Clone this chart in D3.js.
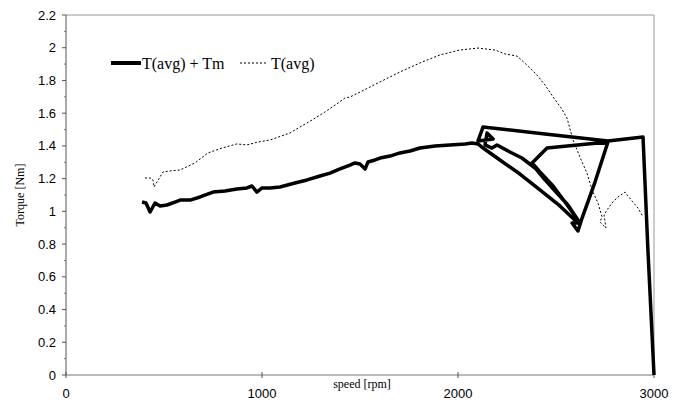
<!DOCTYPE html>
<html>
<head>
<meta charset="utf-8">
<script src="https://cdn.jsdelivr.net/npm/d3@7"></script>
<style>
body { margin: 0; background: #fff; }
svg { display: block; }
</style>
</head>
<body>
<svg width="679" height="405"></svg>
<script>
// T(avg) (dotted)
var avgSpeed = [403, 429, 444, 449, 464, 495, 531, 582, 658, 724, 796, 872, 923, 980, 1041, 1143, 1194, 1255,
    1321, 1388, 1423, 1449, 1500, 1602, 1704, 1806, 1908, 2010, 2102, 2189, 2240, 2301, 2352, 2403, 2444,
    2485, 2526, 2556, 2587, 2622, 2658, 2684, 2714, 2735, 2724, 2755, 2745, 2760, 2786, 2816, 2852, 2888,
    2918, 2944];
var avgTorque = [1.204, 1.204, 1.192, 1.149, 1.179, 1.241, 1.247, 1.253, 1.296, 1.357, 1.387, 1.412, 1.406,
    1.424, 1.436, 1.479, 1.516, 1.558, 1.607, 1.662, 1.693, 1.699, 1.729, 1.791, 1.852, 1.907, 1.956, 1.986,
    1.998, 1.986, 1.962, 1.949, 1.894, 1.833, 1.772, 1.699, 1.632, 1.571, 1.436, 1.332, 1.234, 1.131, 1.051,
    0.966, 0.935, 0.898, 0.978, 1.008, 1.051, 1.088, 1.118, 1.063, 1.021, 0.966];

// T(avg) + Tm (solid)
var sumSpeed = [388, 408, 429, 454, 480, 515, 556, 582, 633, 684, 750, 811, 872, 923, 949, 974, 1000, 1041,
    1092, 1168, 1230, 1296, 1347, 1398, 1449, 1474, 1500, 1526, 1541, 1577, 1602, 1653, 1704, 1755, 1806,
    1883, 1959, 2036, 2071, 2102,
    2128, 2214, 2316, 2418, 2520, 2612, 2582, 2612, 2633, 2699, 2765, 2454, 2378,
    2418, 2485, 2546, 2612, 2561, 2500, 2444, 2393, 2326, 2265, 2199,
    2173, 2138, 2148, 2179, 2102, 2128, 2444, 2765, 2944, 2969, 3000];
var sumTorque = [1.057, 1.051, 0.996, 1.051, 1.033, 1.039, 1.057, 1.069, 1.069, 1.088, 1.118, 1.124, 1.137,
    1.143, 1.155, 1.118, 1.143, 1.143, 1.149, 1.173, 1.192, 1.216, 1.234, 1.259, 1.283, 1.296, 1.289, 1.259,
    1.302, 1.314, 1.326, 1.338, 1.357, 1.369, 1.387, 1.399, 1.406, 1.412, 1.418, 1.412,
    1.387, 1.314, 1.228, 1.131, 1.033, 0.929, 0.929, 0.880, 0.959, 1.179, 1.424, 1.387, 1.296,
    1.241, 1.155, 1.057, 0.947, 1.039, 1.118, 1.192, 1.265, 1.326, 1.363, 1.406,
    1.387, 1.406, 1.479, 1.442, 1.430, 1.516, 1.473, 1.430, 1.454, 0.764, 0];

var xTicks = [0, 1000, 2000, 3000];
var yTicks = d3.range(0, 2.21, 0.2);
var yMinor = d3.range(0.1, 2.2, 0.2);

var svg = d3.select("svg");
var x = d3.scaleLinear().domain([0, 3000]).range([66, 654]);
var y = d3.scaleLinear().domain([0, 2.2]).range([375, 15]);

// frame (top and right)
svg.append("path")
    .attr("d", "M" + x(0) + "," + y(2.2) + "H" + x(3000) + "V" + y(0))
    .attr("fill", "none")
    .attr("stroke", "#999")
    .attr("stroke-width", 1);

// y axis
var yAxis = svg.append("g").attr("transform", "translate(" + x(0) + ",0)");
yAxis.append("line")
    .attr("y1", y(0)).attr("y2", y(2.2))
    .attr("stroke", "#555");
yAxis.selectAll("line.major").data(yTicks).enter().append("line")
    .attr("class", "major")
    .attr("x1", -4).attr("x2", 0)
    .attr("y1", d => y(d)).attr("y2", d => y(d))
    .attr("stroke", "#555");
yAxis.selectAll("line.minor").data(yMinor).enter().append("line")
    .attr("class", "minor")
    .attr("x1", -2).attr("x2", 0)
    .attr("y1", d => y(d)).attr("y2", d => y(d))
    .attr("stroke", "#777");
yAxis.selectAll("text").data(yTicks).enter().append("text")
    .attr("x", -10)
    .attr("y", d => y(d) + 4.5)
    .attr("text-anchor", "end")
    .style("font-family", "Liberation Sans, Arial, sans-serif")
    .style("font-size", "13px")
    .text(d => d3.format("~g")(+d.toFixed(1)));

// x axis
var xAxis = svg.append("g").attr("transform", "translate(0," + y(0) + ")");
xAxis.append("line")
    .attr("x1", x(0)).attr("x2", x(3000))
    .attr("stroke", "#777");
xAxis.selectAll("line.tick").data(xTicks).enter().append("line")
    .attr("class", "tick")
    .attr("x1", d => x(d)).attr("x2", d => x(d))
    .attr("y1", -3).attr("y2", 3)
    .attr("stroke", "#555");
xAxis.selectAll("text").data(xTicks).enter().append("text")
    .attr("x", d => x(d))
    .attr("y", 23)
    .attr("text-anchor", "middle")
    .style("font-family", "Liberation Sans, Arial, sans-serif")
    .style("font-size", "13px")
    .text(d => d);

// axis titles
svg.append("text")
    .attr("transform", "translate(24," + y(1.1) + ") rotate(-90)")
    .attr("text-anchor", "middle")
    .style("font-family", "Liberation Serif, Times New Roman, serif")
    .style("font-size", "12px")
    .text("Torque [Nm]");
svg.append("text")
    .attr("x", 362).attr("y", 388)
    .attr("text-anchor", "middle")
    .style("font-family", "Liberation Serif, Times New Roman, serif")
    .style("font-size", "12px")
    .text("speed [rpm]");

var line = d3.line().x(d => x(d[0])).y(d => y(d[1]));

// T(avg)
svg.append("path")
    .attr("d", line(d3.zip(avgSpeed, avgTorque)))
    .attr("fill", "none")
    .attr("stroke", "#000")
    .attr("stroke-width", 1)
    .attr("stroke-dasharray", "2,2");

// T(avg) + Tm
svg.append("path")
    .attr("d", line(d3.zip(sumSpeed, sumTorque)))
    .attr("fill", "none")
    .attr("stroke", "#000")
    .attr("stroke-width", 3.5)
    .attr("stroke-linejoin", "round");

// legend
var legend = svg.append("g");
legend.append("line")
    .attr("x1", 111).attr("x2", 141).attr("y1", 63).attr("y2", 63)
    .attr("stroke", "#000").attr("stroke-width", 4);
legend.append("text")
    .attr("x", 142).attr("y", 68.5)
    .style("font-family", "Liberation Serif, Times New Roman, serif")
    .style("font-size", "16px")
    .text("T(avg) + Tm");
legend.append("line")
    .attr("x1", 240).attr("x2", 268).attr("y1", 63).attr("y2", 63)
    .attr("stroke", "#000").attr("stroke-width", 1)
    .attr("stroke-dasharray", "2,2");
legend.append("text")
    .attr("x", 271).attr("y", 68.5)
    .style("font-family", "Liberation Serif, Times New Roman, serif")
    .style("font-size", "16px")
    .text("T(avg)");
</script>
</body>
</html>
